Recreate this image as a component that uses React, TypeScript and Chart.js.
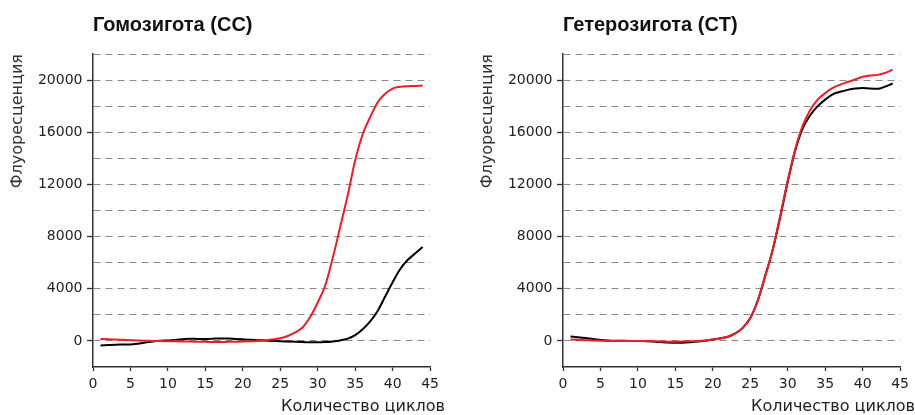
import React, { useEffect, useRef } from 'react';
import { Chart, registerables } from 'chart.js';

Chart.register(...registerables);

// ---- data ----
const cycles = [1, 2, 3, 4, 5, 6, 7, 8, 9, 10, 11, 12, 13, 14, 15, 16, 17, 18, 19, 20, 21, 22,
  23, 24, 25, 26, 27, 28, 29, 30, 31, 32, 33, 34, 35, 36, 37, 38, 39, 40, 41, 42, 43, 44];

const homoRed = [150, 120, 100, 80, 60, 40, 20, 0, -10, -20, -30, -40, -50, -60, -70, -80, -80,
  -70, -60, -50, -30, 0, 40, 100, 200, 380, 650, 1050, 1850, 2950, 4250, 6350, 8750, 11150,
  13850, 15850, 17150, 18300, 18950, 19350, 19480, 19530, 19550, 19580];

const homoBlack = [-350, -320, -290, -280, -270, -210, -130, -40, 10, 40, 80, 130, 170, 150, 140,
  170, 190, 180, 150, 120, 90, 60, 30, 0, -30, -50, -70, -90, -110, -110, -90, -40, 40, 180, 450,
  900, 1500, 2300, 3400, 4500, 5500, 6200, 6700, 7200];

const heteroRed = [100, 80, 60, 30, 10, 0, 0, 0, 0, 0, -10, -20, -40, -60, -60, -50, -30, 0, 40,
  100, 180, 320, 580, 1000, 1750, 3100, 5000, 7000, 9600, 12300, 14700, 16500, 17700, 18500,
  19000, 19400, 19650, 19850, 20050, 20250, 20350, 20400, 20550, 20800];

const heteroBlack = [330, 280, 220, 140, 80, 40, 20, 10, 0, 0, -20, -50, -90, -130, -150, -140,
  -100, -50, 20, 100, 200, 320, 580, 1000, 1750, 3100, 5000, 7000, 9500, 12200, 14600, 16300,
  17300, 18000, 18500, 18900, 19100, 19250, 19350, 19390, 19350, 19330, 19500, 19740];

const yLabelValues = [0, 4000, 8000, 12000, 16000, 20000];
const titleHomo = 'Гомозигота (CC)';
const titleHetero = 'Гетерозигота (CT)';
const yAxisTitle = 'Флуоресценция';
const xAxisTitle = 'Количество циклов';

const SANS = '"DejaVu Sans", Verdana, sans-serif';
const TITLE_FONT = '"Liberation Sans", Arial, sans-serif';

function PcrChart({ title, red, black }: { title: string; red: number[]; black: number[] }) {
  const ref = useRef<HTMLCanvasElement | null>(null);

  useEffect(() => {
    if (!ref.current) return;
    const toPts = (arr: number[]) => cycles.map((c, i) => ({ x: c, y: arr[i] }));
    const chart = new Chart(ref.current, {
      type: 'line',
      data: {
        datasets: [
          {
            data: toPts(red),
            borderColor: '#ee1c25',
            borderWidth: 2,
            pointRadius: 0,
            tension: 0.4,
            cubicInterpolationMode: 'monotone',
            yAxisID: 'y',
          },
          {
            data: toPts(black),
            borderColor: '#000000',
            borderWidth: 2,
            pointRadius: 0,
            tension: 0.4,
            cubicInterpolationMode: 'monotone',
            yAxisID: 'y',
          },
        ],
      },
      options: {
        animation: false,
        responsive: false,
        maintainAspectRatio: false,
        events: [],
        layout: { padding: { left: 0, right: 0, top: 0, bottom: 0 } },
        plugins: {
          legend: { display: false },
          tooltip: { enabled: false },
          title: {
            display: true,
            text: title,
            align: 'start',
            fullSize: false,
            color: '#111111',
            font: { family: TITLE_FONT, size: 20, weight: 'bold', lineHeight: 1.2 },
            padding: { top: 13, bottom: 17 },
          },
          // x-axis caption, right-aligned to the panel edge as in the original
          subtitle: {
            display: true,
            text: xAxisTitle,
            position: 'bottom',
            align: 'end',
            fullSize: true,
            color: '#222222',
            font: { family: SANS, size: 16, lineHeight: 1 },
            padding: { top: 2, bottom: 0 },
          },
        },
        scales: {
          x: {
            type: 'linear',
            min: 0,
            max: 45,
            ticks: {
              stepSize: 5,
              padding: 6,
              color: '#222222',
              maxRotation: 0,
              autoSkip: false,
              font: { family: SANS, size: 14, lineHeight: 1 },
            },
            grid: {
              drawOnChartArea: false,
              drawTicks: true,
              tickLength: 4,
              color: '#333333',
              tickWidth: 1.3,
            },
            border: { display: true, color: '#333333', width: 1.5 },
          },
          y: {
            type: 'linear',
            position: 'left',
            min: -2000,
            max: 22000,
            afterFit: (scale: any) => {
              scale.width = 93;
            },
            ticks: {
              stepSize: 2000,
              padding: 4.5,
              color: '#222222',
              font: { family: SANS, size: 14, lineHeight: 1 },
              callback: (v: any) => (yLabelValues.includes(Number(v)) ? String(v) : ''),
            },
            grid: {
              drawTicks: true,
              tickLength: 6,
              lineWidth: 1,
              color: (ctx: any) =>
                ctx.tick && ctx.tick.value === -2000 ? 'rgba(0,0,0,0)' : '#8a8a8a',
              tickColor: (ctx: any) =>
                ctx.tick && yLabelValues.includes(ctx.tick.value) ? '#333333' : 'rgba(0,0,0,0)',
              tickBorderDash: [],
              tickWidth: 1.3,
            },
            border: { display: true, color: '#333333', width: 1.5, dash: [7, 5] },
            title: {
              display: true,
              text: yAxisTitle,
              align: 'end',
              color: '#333333',
              font: { family: SANS, size: 16, lineHeight: 1 },
              padding: { top: 10, bottom: 0 },
            },
          },
          // empty right-hand spacer so the plot ends before the panel edge
          spacer: {
            type: 'linear',
            position: 'right',
            display: true,
            min: 0,
            max: 1,
            afterFit: (scale: any) => {
              scale.width = 12;
            },
            ticks: { display: false },
            grid: { display: false, drawTicks: false },
            border: { display: false },
          },
        },
      } as any,
    });
    return () => chart.destroy();
  }, [title, red, black]);

  return (
    <canvas
      ref={ref}
      width={445}
      height={415}
      style={{ display: 'block', width: 445, height: 415 }}
    />
  );
}

export default function App() {
  return (
    <div style={{ position: 'fixed', left: 0, top: 0, width: 915, height: 415, background: '#fff' }}>
      <div style={{ position: 'absolute', left: 0, top: 0 }}>
        <PcrChart title={titleHomo} red={homoRed} black={homoBlack} />
      </div>
      <div style={{ position: 'absolute', left: 470, top: 0 }}>
        <PcrChart title={titleHetero} red={heteroRed} black={heteroBlack} />
      </div>
    </div>
  );
}
